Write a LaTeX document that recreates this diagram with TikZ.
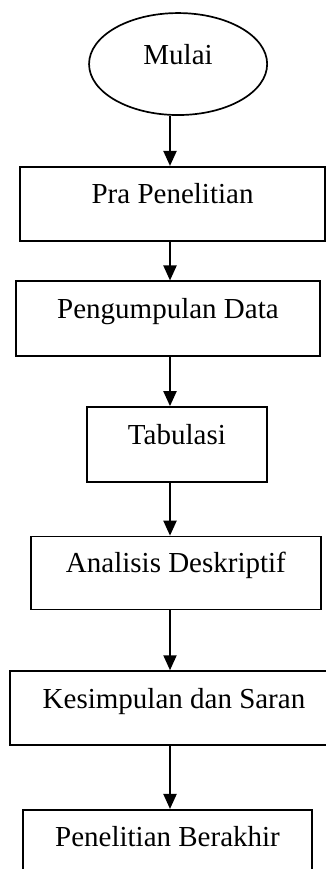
\documentclass[tikz,border=0pt]{standalone}
\usepackage{fontspec}
\setmainfont{Liberation Serif}
\usetikzlibrary{arrows.meta, positioning, shapes.geometric}

\begin{document}
\begin{tikzpicture}[
  node distance=20pt,
  every node/.style={draw=black, line width=0.7pt, font=\fontsize{12}{14}\selectfont,
    text height=6pt, text depth=6pt, inner sep=0pt},
  stepbox/.style={rectangle, minimum height=30.6pt},
  startend/.style={ellipse, minimum width=73.7pt, minimum height=42.2pt},
  flow/.style={-{Triangle[width=5.4pt, length=6.2pt]}, line width=0.8pt}
]
\clip (0,0) rectangle (134.9pt,-359.6pt);

\node[startend] (mulai) at (73.7pt,-26.5pt) {Mulai};
\node[stepbox, minimum width=126.2pt, below=20.7pt of mulai, xshift=-2.3pt] (pra) {Pra Penelitian};
\node[stepbox, minimum width=125.8pt, minimum height=31pt, below=16.1pt of pra, xshift=-1.9pt] (kumpul) {Pengumpulan Data};
\node[stepbox, minimum width=74.5pt, minimum height=31pt, below=20.3pt of kumpul, xshift=3.7pt] (tabulasi) {Tabulasi};
\node[stepbox, minimum width=120pt, minimum height=30.2pt, below=21.9pt of tabulasi, xshift=-0.4pt] (analisis) {Analisis Deskriptif};
\node[stepbox, minimum width=135.7pt, below=24.8pt of analisis, xshift=-0.8pt] (saran) {Kesimpulan dan Saran};
\node[stepbox, minimum width=119.6pt, below=26.1pt of saran, xshift=-2.7pt] (akhir) {Penelitian Berakhir};

% arrows down the middle
\coordinate (axis) at (70.35pt,0);
\foreach \a/\b in {mulai/pra, pra/kumpul, kumpul/tabulasi, tabulasi/analisis, analisis/saran, saran/akhir}
  \draw[flow] (\a.south -| axis) -- (\b.north -| axis);

\end{tikzpicture}
\end{document}
